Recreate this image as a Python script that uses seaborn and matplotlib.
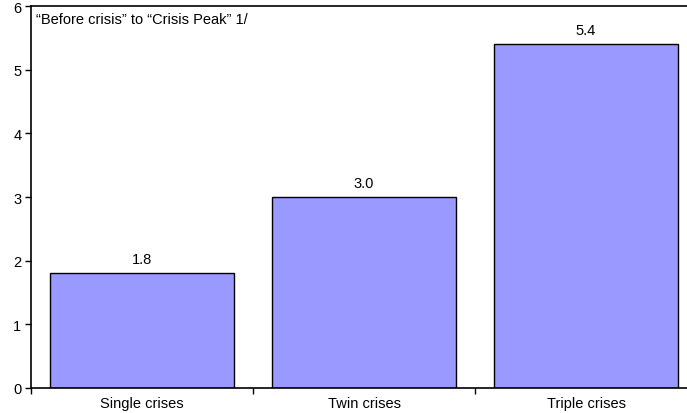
import matplotlib
matplotlib.use("Agg")
import matplotlib.pyplot as plt
import seaborn as sns
import pandas as pd
from matplotlib.ticker import FixedLocator, NullFormatter

categories = ["Single crises", "Twin crises", "Triple crises"]
values = [1.8, 3.0, 5.4]
value_labels = ["1.8", "3.0", "5.4"]

sns.set_style("white")
plt.rcParams['font.family'] = ['Liberation Sans', 'DejaVu Sans']
plt.rcParams['text.color'] = 'black'
plt.rcParams['xtick.color'] = 'black'
plt.rcParams['ytick.color'] = 'black'

FS = 10.5

df = pd.DataFrame({"cat": categories, "val": values})

fig = plt.figure(figsize=(6.87, 4.14), dpi=100)
ax = fig.add_axes([0.0451, 0.0604, 0.9695, 0.9226])
sns.barplot(data=df, x="cat", y="val", color="#9999FF", saturation=1,
            edgecolor="black", linewidth=1.0, width=0.833, ax=ax)

for i, (v, lab) in enumerate(zip(values, value_labels)):
    ax.annotate(lab, (i, v), xytext=(0, 5), textcoords="offset points",
                ha="center", va="bottom", fontsize=FS, color="black")

ax.set_xlim(-0.5, 2.5)
ax.set_ylim(0, 6)
ax.set_yticks(range(0, 7))
ax.set_xlabel("")
ax.set_ylabel("")
ax.tick_params(axis="y", direction="out", length=4, width=1, labelsize=FS, left=True, pad=3)
ax.tick_params(axis="x", which="major", length=0, labelsize=FS, pad=6)
ax.xaxis.set_minor_locator(FixedLocator([-0.5, 0.5, 1.5]))
ax.xaxis.set_minor_formatter(NullFormatter())
ax.tick_params(axis="x", which="minor", direction="out", length=4, width=1, bottom=True)

for s in ["left", "bottom", "top"]:
    ax.spines[s].set_visible(True)
    ax.spines[s].set_color("black")
    ax.spines[s].set_linewidth(1.2)
ax.spines["right"].set_visible(False)

ax.text(0.008, 0.985, "\u201cBefore crisis\u201d to \u201cCrisis Peak\u201d 1/",
        transform=ax.transAxes, ha="left", va="top", fontsize=FS, color="black")

fig.savefig("out.png", dpi=100)
